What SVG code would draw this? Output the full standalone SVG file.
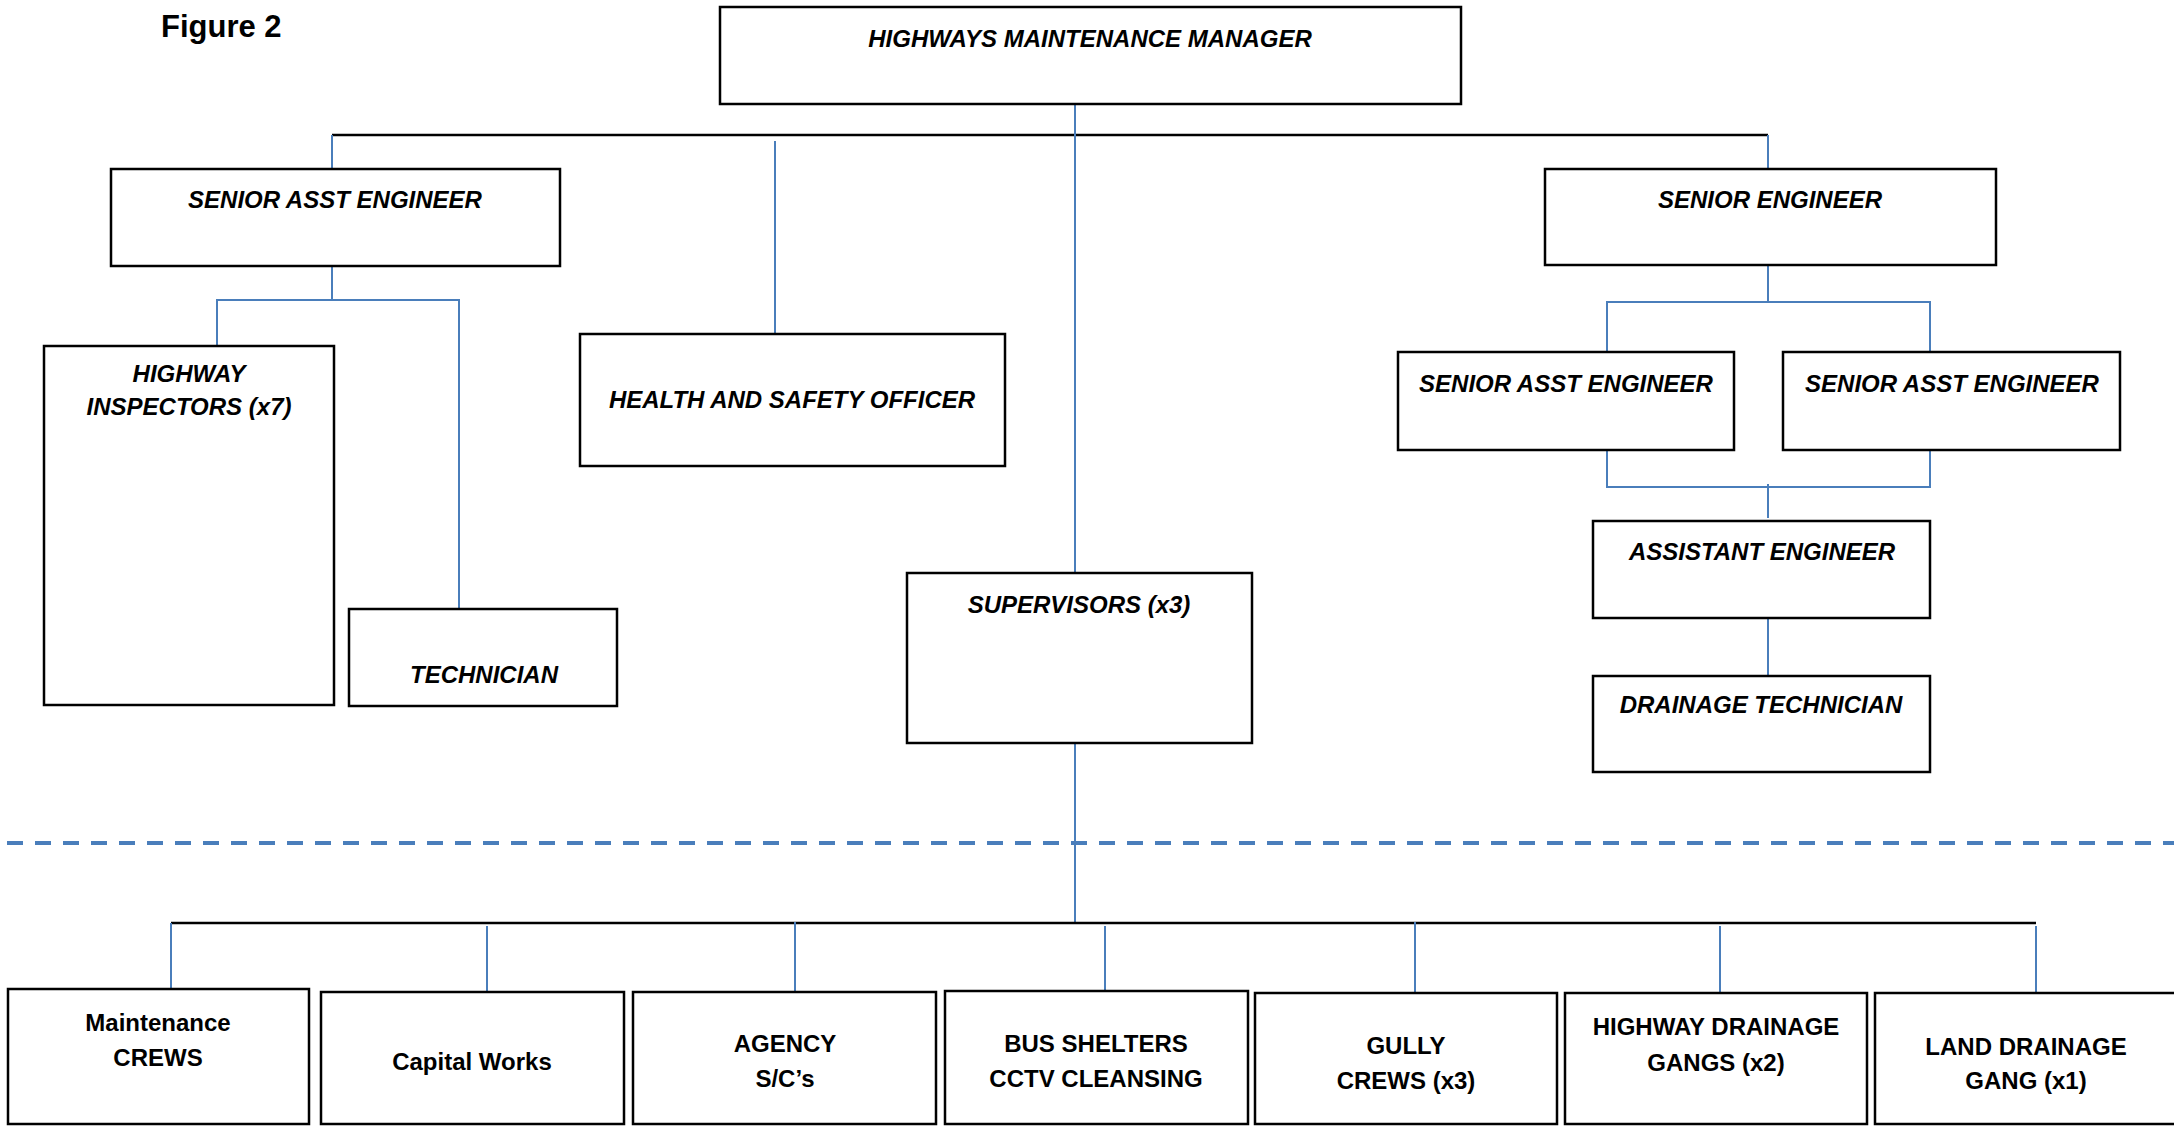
<svg xmlns="http://www.w3.org/2000/svg" width="2174" height="1126" viewBox="0 0 2174 1126">
<style>
.box{fill:#fff;stroke:#000;stroke-width:2.5}
.t{font-family:"Liberation Sans",Arial,sans-serif;font-weight:bold;font-style:italic;font-size:24px;fill:#000;text-anchor:middle}
.b{font-family:"Liberation Sans",Arial,sans-serif;font-weight:bold;font-size:24px;fill:#000;text-anchor:middle}
.bl{stroke:#4a7ebb;stroke-width:2;fill:none}
.bk{stroke:#000;stroke-width:2.5;fill:none}
.dash{stroke:#4a7ebb;stroke-width:4;stroke-dasharray:16 12;fill:none}
</style>
<rect width="2174" height="1126" fill="#fff"/>
<text x="161" y="37" font-family="Liberation Sans,Arial,sans-serif" font-weight="bold" font-size="31">Figure 2</text>
<g id="connectors">
<line class="dash" x1="7" y1="843" x2="2174" y2="843"/>
<line class="bk" x1="332" y1="135" x2="1768" y2="135"/>
<line class="bl" x1="1075" y1="104" x2="1075" y2="573"/>
<line class="bl" x1="332" y1="135" x2="332" y2="169"/>
<line class="bl" x1="1768" y1="135" x2="1768" y2="169"/>
<line class="bl" x1="775" y1="141" x2="775" y2="337"/>
<polyline class="bl" points="332,266 332,300"/>
<polyline class="bl" points="217,346 217,300 459,300 459,609"/>
<line class="bl" x1="1768" y1="265" x2="1768" y2="302"/>
<polyline class="bl" points="1607,352 1607,302 1930,302 1930,352"/>
<polyline class="bl" points="1607,450 1607,487 1930,487 1930,450"/>
<line class="bl" x1="1768" y1="484" x2="1768" y2="518"/>
<line class="bl" x1="1768" y1="618" x2="1768" y2="676"/>
<line class="bl" x1="1075" y1="743" x2="1075" y2="923"/>
<line class="bk" x1="171" y1="923" x2="2036" y2="923"/>
<line class="bl" x1="171" y1="923" x2="171" y2="989"/>
<line class="bl" x1="487" y1="926" x2="487" y2="992"/>
<line class="bl" x1="795" y1="922" x2="795" y2="992"/>
<line class="bl" x1="1105" y1="926" x2="1105" y2="991"/>
<line class="bl" x1="1415" y1="922" x2="1415" y2="993"/>
<line class="bl" x1="1720" y1="926" x2="1720" y2="993"/>
<line class="bl" x1="2036" y1="926" x2="2036" y2="993"/>
</g>
<g id="manager"><rect class="box" x="720" y="7" width="741" height="97"/><text class="t" x="1090" y="47">HIGHWAYS MAINTENANCE MANAGER</text></g>
<g id="senior-asst-left"><rect class="box" x="111" y="169" width="449" height="97"/><text class="t" x="335" y="208">SENIOR ASST ENGINEER</text></g>
<g id="senior-engineer"><rect class="box" x="1545" y="169" width="451" height="96"/><text class="t" x="1770" y="208">SENIOR ENGINEER</text></g>
<g id="highway-inspectors"><rect class="box" x="44" y="346" width="290" height="359"/><text class="t" x="189" y="382">HIGHWAY</text><text class="t" x="189" y="415">INSPECTORS (x7)</text></g>
<g id="technician"><rect class="box" x="349" y="609" width="268" height="97"/><text class="t" x="484" y="683">TECHNICIAN</text></g>
<g id="hso"><rect class="box" x="580" y="334" width="425" height="132"/><text class="t" x="792" y="408">HEALTH AND SAFETY OFFICER</text></g>
<g id="supervisors"><rect class="box" x="907" y="573" width="345" height="170"/><text class="t" x="1079" y="613">SUPERVISORS (x3)</text></g>
<g id="senior-asst-r1"><rect class="box" x="1398" y="352" width="336" height="98"/><text class="t" x="1566" y="392">SENIOR ASST ENGINEER</text></g>
<g id="senior-asst-r2"><rect class="box" x="1783" y="352" width="337" height="98"/><text class="t" x="1952" y="392">SENIOR ASST ENGINEER</text></g>
<g id="assistant-engineer"><rect class="box" x="1593" y="521" width="337" height="97"/><text class="t" x="1762" y="560">ASSISTANT ENGINEER</text></g>
<g id="drainage-technician"><rect class="box" x="1593" y="676" width="337" height="96"/><text class="t" x="1761" y="713">DRAINAGE TECHNICIAN</text></g>
<g id="maintenance-crews"><rect class="box" x="8" y="989" width="301" height="135"/><text class="b" x="158" y="1031">Maintenance</text><text class="b" x="158" y="1066">CREWS</text></g>
<g id="capital-works"><rect class="box" x="321" y="992" width="303" height="132"/><text class="b" x="472" y="1070">Capital Works</text></g>
<g id="agency"><rect class="box" x="633" y="992" width="303" height="132"/><text class="b" x="785" y="1052">AGENCY</text><text class="b" x="785" y="1087">S/C’s</text></g>
<g id="bus-shelters"><rect class="box" x="945" y="991" width="303" height="133"/><text class="b" x="1096" y="1052">BUS SHELTERS</text><text class="b" x="1096" y="1087">CCTV CLEANSING</text></g>
<g id="gully-crews"><rect class="box" x="1255" y="993" width="302" height="131"/><text class="b" x="1406" y="1054">GULLY</text><text class="b" x="1406" y="1089">CREWS (x3)</text></g>
<g id="highway-drainage"><rect class="box" x="1565" y="993" width="302" height="131"/><text class="b" x="1716" y="1035">HIGHWAY DRAINAGE</text><text class="b" x="1716" y="1071">GANGS (x2)</text></g>
<g id="land-drainage"><rect class="box" x="1875" y="993" width="310" height="131"/><text class="b" x="2026" y="1055">LAND DRAINAGE</text><text class="b" x="2026" y="1089">GANG (x1)</text></g>
</svg>
